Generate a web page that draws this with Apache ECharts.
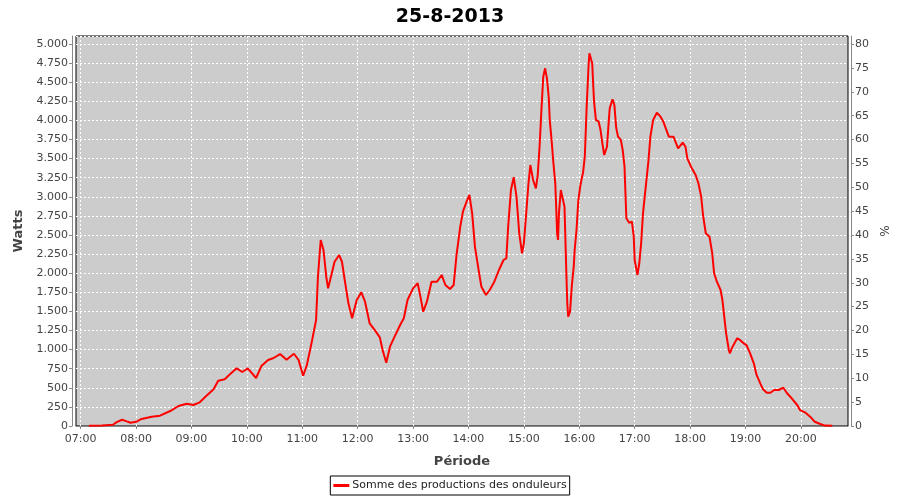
<!DOCTYPE html>
<html>
<head>
<meta charset="utf-8">
<script src="https://cdn.jsdelivr.net/npm/echarts@6/dist/echarts.min.js"></script>
<style>html,body{margin:0;padding:0;background:#fff;}#c{width:900px;height:500px;}</style>
</head>
<body>
<div id="c"></div>
<script>
const chartTitle = '25-8-2013';
const seriesName = 'Somme des productions des onduleurs';
const times = ['07:09','07:23','07:25','07:35','07:39','07:45','07:50','07:54','08:00','08:06','08:17','08:26','08:37','08:46','08:55','09:02','09:09','09:16','09:24','09:29','09:36','09:42','09:49','09:55','10:01','10:05','10:10','10:16','10:23','10:29','10:36','10:43','10:51','10:56','11:01','11:05','11:10','11:15','11:17','11:20','11:23','11:26','11:28','11:32','11:35','11:40','11:43','11:46','11:50','11:54','11:56','11:59','12:04','12:08','12:13','12:19','12:24','12:27','12:31','12:35','12:40','12:46','12:50','12:54','13:00','13:05','13:08','13:11','13:15','13:20','13:26','13:31','13:35','13:40','13:44','13:47','13:51','13:54','13:58','14:01','14:04','14:07','14:11','14:14','14:19','14:23','14:28','14:33','14:38','14:41','14:43','14:46','14:49','14:52','14:55','14:58','15:00','15:02','15:05','15:07','15:10','15:13','15:15','15:17','15:19','15:21','15:23','15:25','15:27','15:28','15:30','15:32','15:34','15:35','15:36','15:37','15:38','15:40','15:42','15:44','15:45','15:46','15:47','15:48','15:50','15:52','15:54','15:55','15:57','15:59','16:01','16:03','16:04','16:06','16:08','16:10','16:11','16:13','16:14','16:15','16:16','16:18','16:21','16:23','16:25','16:27','16:30','16:32','16:33','16:36','16:38','16:40','16:42','16:45','16:47','16:49','16:50','16:51','16:54','16:57','16:59','17:00','17:03','17:05','17:07','17:09','17:12','17:15','17:17','17:20','17:24','17:28','17:31','17:35','17:37','17:42','17:47','17:52','17:55','17:57','18:01','18:06','18:09','18:12','18:14','18:17','18:21','18:24','18:26','18:29','18:33','18:35','18:37','18:39','18:42','18:43','18:46','18:51','18:54','18:58','19:01','19:05','19:09','19:12','19:16','19:19','19:23','19:27','19:31','19:36','19:41','19:45','19:50','19:56','19:59','20:05','20:10','20:15','20:21','20:26','20:34'];
const watts = [3,5,17,17,50,82,60,43,55,92,122,135,196,262,292,275,310,393,480,593,611,681,755,707,755,698,628,790,864,890,942,868,946,864,658,798,1082,1388,1954,2435,2304,1954,1802,1999,2150,2238,2150,1911,1606,1410,1431,1649,1750,1627,1344,1248,1161,995,829,1038,1169,1322,1410,1649,1802,1868,1693,1496,1627,1889,1889,1977,1846,1793,1846,2230,2600,2805,2936,3024,2784,2347,2042,1823,1715,1780,1889,2042,2173,2195,2609,3089,3256,3002,2522,2260,2392,2697,3177,3416,3220,3111,3285,3656,4136,4572,4682,4551,4290,4006,3744,3439,3177,2871,2522,2435,2784,3089,3111,2871,2435,1999,1606,1431,1496,1846,2085,2304,2566,2958,3133,3263,3307,3525,4180,4703,4879,4791,4748,4486,4245,4006,3983,3875,3700,3547,3656,4000,4159,4277,4202,3900,3787,3744,3613,3394,3046,2719,2661,2674,2478,2173,1977,2130,2392,2784,3133,3482,3787,4006,4101,4049,3983,3853,3787,3787,3635,3709,3656,3504,3394,3285,3177,3002,2762,2522,2478,2260,1999,1889,1780,1649,1431,1213,995,951,1038,1148,1126,1082,1060,951,820,668,559,480,436,436,471,471,501,428,363,275,209,174,122,56,26,5,3];
const axisStart = '06:55', axisEnd = '20:51';
const leftMax = 5105, rightMax = 5105 * 80 / 5000;

function toMin(s){const p=s.split(':');return +p[0]*60 + +p[1];}
function pad(n){return (n<10?'0':'')+n;}
const cats = [];
for (let m = toMin(axisStart); m <= toMin(axisEnd); m++) cats.push(pad(Math.floor(m/60)) + ':' + pad(m%60));
const data = times.map((t,i)=>[t, watts[i]]);
const isHour = (i, v) => v.slice(3) === '00';
const fmtK = v => String(v).replace(/\B(?=(\d{3})+(?!\d))/g, '.');
const FONT = 'DejaVu Sans';
const axisGray = '#888888';
const labelCol = '#444444';

const chart = echarts.init(document.getElementById('c'));
chart.setOption({
  animation: false,
  backgroundColor: '#ffffff',
  title: {text: chartTitle, left: 'center', top: 3, textStyle: {fontFamily: FONT, fontWeight: 'bold', fontSize: 19, color: '#000'}},
  legend: {
    data: [seriesName], left: 'center', top: 476, icon: 'rect', itemWidth: 16, itemHeight: 3, itemGap: 4,
    borderColor: '#000', borderWidth: 1, borderRadius: 0, padding: [4, 3, 4, 3],
    textStyle: {fontFamily: FONT, fontSize: 11, color: '#222', padding: [0, 0, 0, -2]}
  },
  grid: {left: 76, right: 52, top: 36, bottom: 74, show: true, backgroundColor: '#cccccc', borderColor: '#000', borderWidth: 1},
  xAxis: {
    type: 'category', data: cats, boundaryGap: false, offset: 4,
    name: 'Période', nameLocation: 'middle', nameGap: 25,
    nameTextStyle: {fontFamily: FONT, fontWeight: 'bold', fontSize: 13, color: labelCol},
    axisLine: {lineStyle: {color: axisGray}},
    axisTick: {interval: isHour, length: 3, lineStyle: {color: axisGray}},
    axisLabel: {interval: isHour, fontFamily: FONT, fontSize: 11, color: labelCol, margin: 4},
    splitLine: {show: true, interval: isHour, lineStyle: {color: '#ffffff', type: [2, 2], width: 1}}
  },
  yAxis: [
    {
      type: 'value', position: 'left', min: 0, max: leftMax, interval: 250, offset: 4,
      name: 'Watts', nameLocation: 'middle', nameGap: 42, nameRotate: 90,
      nameTextStyle: {fontFamily: FONT, fontWeight: 'bold', fontSize: 13, color: labelCol},
      axisLine: {show: true, lineStyle: {color: axisGray}},
      axisTick: {show: true, length: 3, lineStyle: {color: axisGray}},
      axisLabel: {fontFamily: FONT, fontSize: 11, color: labelCol, margin: 4, showMaxLabel: false,
        formatter: v => (v % 250 === 0 ? fmtK(v) : '')},
      splitLine: {show: true, lineStyle: {color: '#ffffff', type: [2, 2], width: 1}}
    },
    {
      type: 'value', position: 'right', min: 0, max: rightMax, interval: 5, offset: 3,
      name: '%', nameLocation: 'middle', nameGap: 19, nameRotate: 90,
      nameTextStyle: {fontFamily: FONT, fontSize: 12, color: labelCol},
      axisLine: {show: true, lineStyle: {color: axisGray}},
      axisTick: {show: true, length: 3, lineStyle: {color: axisGray}},
      axisLabel: {fontFamily: FONT, fontSize: 11, color: labelCol, margin: 4, showMaxLabel: false,
        formatter: v => (v % 5 === 0 ? String(v) : '')},
      splitLine: {show: false}
    }
  ],
  series: [
    {name: seriesName, type: 'line', data: data, yAxisIndex: 0, showSymbol: false, symbol: 'none',
     lineStyle: {color: '#ff0000', width: 2}, itemStyle: {color: '#ff0000'}},
    {name: '_pct', type: 'line', data: [], yAxisIndex: 1, symbol: 'none'}
  ]
});
</script>
</body>
</html>
